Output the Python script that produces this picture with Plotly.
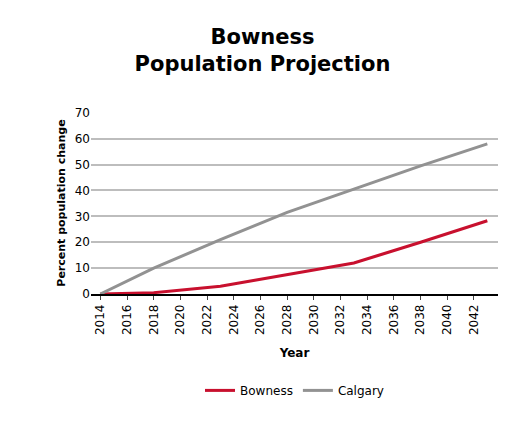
import plotly.graph_objects as go

years = [2014, 2018, 2023, 2028, 2033, 2038, 2043]
bowness = [0, 0.5, 3, 7.5, 12, 20, 28.3]
calgary = [0, 10, 21, 31.5, 40.5, 49.5, 58]
ticks = list(range(2014, 2043, 2))

fig = go.Figure()
fig.add_trace(go.Scatter(x=years, y=bowness, mode="lines", name="Bowness",
                         line=dict(color="#c8102e", width=3)))
fig.add_trace(go.Scatter(x=years, y=calgary, mode="lines", name="Calgary",
                         line=dict(color="#929292", width=3)))
fig.update_layout(
    width=509, height=425, plot_bgcolor="white", paper_bgcolor="white",
    font=dict(family="DejaVu Sans", size=12, color="black"),
    title=dict(text="<b>Bowness<br>Population Projection</b>", x=0.5, xanchor="center",
               y=0.915, font=dict(size=21)),
    margin=dict(l=83, r=19, t=104, b=139),
    legend=dict(orientation="h", x=0.5, xanchor="center", y=-0.45, yanchor="top",
                font=dict(size=12)),
    xaxis=dict(range=[2013.3, 2043.8], tickvals=ticks, tickangle=-90, showgrid=False,
               title=dict(text="<b>Year</b>", font=dict(size=12)), automargin=False,
               showline=True, linecolor="black", linewidth=1.5, ticks="outside", ticklen=4),
    yaxis=dict(range=[0, 70.3], tickvals=[0, 10, 20, 30, 40, 50, 60, 70], ticksuffix="%",
               gridcolor="#bdbdbd", gridwidth=1.5, automargin=False,
               title=dict(text="<b>Percent population change</b>", font=dict(size=11), standoff=6),
               zeroline=False),
)
fig.write_html("out.html")
